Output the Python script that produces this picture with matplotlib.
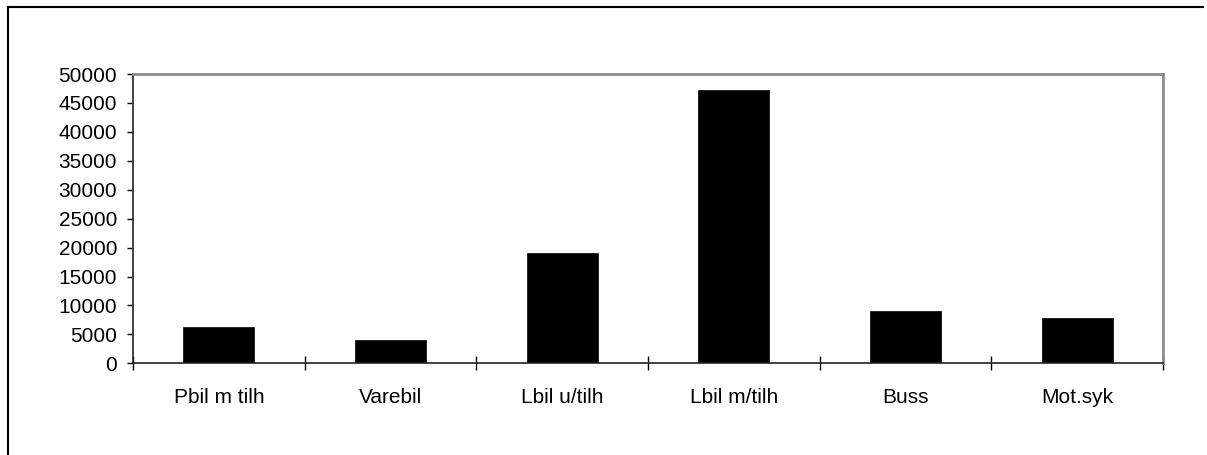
import matplotlib
matplotlib.use("Agg")
import matplotlib.pyplot as plt
from matplotlib.lines import Line2D

# vehicle categories and values
categories = ["Pbil m tilh", "Varebil", "Lbil u/tilh", "Lbil m/tilh", "Buss", "Mot.syk"]
values = [6330, 4030, 19080, 47290, 9050, 7790]
yticks = list(range(0, 50001, 5000))

plt.rcParams["font.family"] = ["Liberation Sans", "DejaVu Sans"]

W, H = 1207, 455
fig = plt.figure(figsize=(W / 100, H / 100), dpi=100)
ax = fig.add_axes([133 / W, 1 - 363.3 / H, (1163 - 133) / W, (363.3 - 74) / H])

x = list(range(len(categories)))
ax.bar(x, values, width=0.414, color="black", edgecolor="black", linewidth=0.5)

ax.set_xlim(-0.5, len(categories) - 0.5)
ax.set_ylim(0, 50000)
ax.set_yticks(yticks)
ax.set_yticklabels([str(v) for v in yticks], fontsize=15)

# category labels centred, ticks at category boundaries
ax.set_xticks(x)
ax.set_xticklabels(categories, fontsize=15)
ax.tick_params(axis="x", which="major", length=0, pad=18)
ax.set_xticks([i - 0.5 for i in range(len(categories) + 1)], minor=True)
ax.tick_params(axis="x", which="minor", direction="inout", length=10, width=1, color="black")
ax.tick_params(axis="y", direction="out", length=4.5, width=1, color="black", pad=7)

for side in ("left", "bottom"):
    ax.spines[side].set_color("#222222")
    ax.spines[side].set_linewidth(1.2)
for side in ("top", "right"):
    ax.spines[side].set_color("#8c8c8c")
    ax.spines[side].set_linewidth(2)

# outer chart border (left and top edges visible)
fig.add_artist(Line2D([8 / W, 8 / W], [0, 1 - 7 / H], transform=fig.transFigure, color="black", lw=1.5))
fig.add_artist(Line2D([8 / W, 1203 / W], [1 - 7 / H, 1 - 7 / H], transform=fig.transFigure, color="black", lw=1.5))

fig.savefig("out.png", dpi=100)
